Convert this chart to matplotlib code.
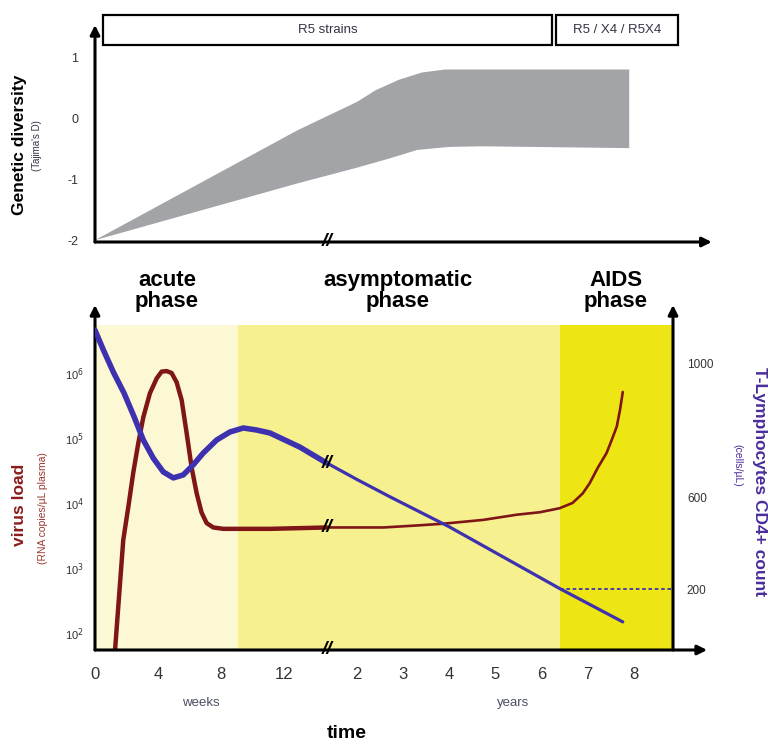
import numpy as np
import matplotlib
matplotlib.use('Agg')
import matplotlib.pyplot as plt
from matplotlib.patches import Rectangle

plt.rcParams['font.family'] = ['Liberation Sans', 'DejaVu Sans']

# ---- data ----
# time axis: weeks drawn 1:1, years squeezed after the break
year_scale = 2.92
year_offset = 10.76
break_u = 14.7

week_ticks = [0, 4, 8, 12]
year_ticks = [2, 3, 4, 5, 6, 7, 8]

# genetic diversity band (Tajima's D)
gd_up_weeks = [0, 12.8]
gd_up_wval = [-2.0, -0.2]
gd_up_years = [2.0, 2.4, 2.9, 3.15, 3.4, 3.9, 7.9]
gd_up_yval = [0.27, 0.46, 0.63, 0.69, 0.75, 0.80, 0.80]
gd_lo_weeks = [0, 12.8]
gd_lo_wval = [-2.0, -1.07]
gd_lo_years = [2.0, 2.7, 3.3, 4.0, 4.7, 7.9]
gd_lo_yval = [-0.81, -0.66, -0.52, -0.47, -0.46, -0.49]

# virus load (RNA copies/uL)
vl_weeks = [1.27, 1.79, 2.11, 2.42, 2.74, 3.06, 3.48, 3.91, 4.22, 4.54, 4.85, 5.17, 5.49,
            5.80, 6.12, 6.44, 6.75, 7.07, 7.49, 8.12, 11.1, 14.7]
vl_wval = [55, 2700, 8700, 29000, 83000, 209000, 490000, 830000, 1050000, 1070000, 1000000,
           720000, 380000, 120000, 35000, 14000, 7100, 4900, 4200, 4000, 4000, 4200]
vl_years = [1.35, 2, 2.57, 3.28, 3.87, 4.74, 5.46, 5.96, 6.39, 6.67, 6.89, 7.04, 7.22, 7.41,
            7.52, 7.63, 7.70, 7.76]
vl_yval = [4200, 4200, 4200, 4500, 4800, 5500, 6600, 7200, 8300, 10000, 14000, 20000, 35000,
           59000, 93000, 150000, 270000, 510000]

# CD4 count (cells/uL)
cd_weeks = [0, 0.53, 1.16, 1.84, 2.48, 3.06, 3.69, 4.32, 4.96, 5.59, 6.22, 6.85, 7.70, 8.54,
            9.39, 10.23, 11.08, 12.97, 14.68]
cd_wval = [1098, 1039, 973, 910, 839, 770, 716, 675, 657, 666, 696, 731, 770, 794, 806, 800,
           791, 749, 701]
cd_years = [1.35, 2, 2.72, 4, 6.41, 7.76]
cd_yval = [701, 652, 600, 470, 200, 57]

acute_end_week = 9.05
aids_start_year = 6.4
cd4_threshold = 200

cd_ticks = [1000, 600, 200]
vl_ticks = [1e2, 1e3, 1e4, 1e5, 1e6]


def yu(y):
    return year_offset + np.asarray(y, float) * year_scale


W, H = 768, 745
fig = plt.figure(figsize=(W / 100, H / 100), dpi=100)


def fx(px):
    return px / W


def fy(py):
    return 1 - py / H


xmax = 36.6
red = '#801518'
blue = '#3d31b0'

# ---------- top panel ----------
ax1 = fig.add_axes([fx(95), fy(242), fx(673) - fx(95), fy(25) - fy(242)])
ax1.set_xlim(0, xmax)
ax1.set_ylim(-2.03, 1.53)
bx = np.concatenate([gd_up_weeks, yu(gd_up_years), yu(gd_lo_years)[::-1], gd_lo_weeks[::-1]])
by = np.concatenate([gd_up_wval, gd_up_yval, gd_lo_yval[::-1], gd_lo_wval[::-1]])
ax1.fill(bx, by, color='#a2a4a8', lw=0)
for s in ax1.spines.values():
    s.set_visible(False)
ax1.set_xticks([])
ax1.set_yticks([1, 0, -1, -2])
ax1.set_yticklabels(['1', '0', '-1', '-2'], fontsize=9, color='#333333')
ax1.tick_params(axis='y', length=0, pad=12)
arw = dict(arrowstyle='-|>', lw=2.2, color='k', mutation_scale=14, shrinkA=0, shrinkB=0)
ax1.annotate('', xy=(0, 1), xytext=(0, 0), xycoords='axes fraction', arrowprops=arw)
ax1.annotate('', xy=(1.067, 0), xytext=(0, 0), xycoords='axes fraction', arrowprops=arw)
brk = dict(ha='center', va='center', fontsize=14, fontweight='bold', fontstyle='italic')
ax1.text(break_u, -2.03, '//', clip_on=False, **brk)

# strain boxes
for x0, x1, lab in [(103, 552, 'R5 strains'), (556, 678, 'R5 / X4 / R5X4')]:
    fig.add_artist(Rectangle((fx(x0), fy(45)), fx(x1) - fx(x0), fy(15) - fy(45),
                             transform=fig.transFigure, fill=False, lw=1.6, ec='k'))
    fig.text(fx((x0 + x1) / 2), fy(30), lab, ha='center', va='center', fontsize=9.5, color='#333344')

fig.text(fx(20), fy(145), 'Genetic diversity', rotation=90, ha='center', va='center',
         fontsize=12.5, fontweight='bold')
fig.text(fx(37), fy(146), "(Tajima's D)", rotation=90, ha='center', va='center',
         fontsize=7, color='#333344')

# ---------- bottom panel ----------
ax = fig.add_axes([fx(95), fy(650), fx(673) - fx(95), fy(305) - fy(650)])
ax.set_xlim(0, xmax)
ax.set_yscale('log')
ax.set_ylim(10 ** 1.738, 10 ** 7.046)
shade_top = (650 - 325) / (650 - 305)
ax.axvspan(0, acute_end_week, ymax=shade_top, color='#fcf8d3', lw=0)
ax.axvspan(acute_end_week, yu(aids_start_year), ymax=shade_top, color='#f7f08e', lw=0)
ax.axvspan(yu(aids_start_year), xmax, ymax=shade_top, color='#eee614', lw=0)
for s in ax.spines.values():
    s.set_visible(False)

ax.plot(vl_weeks, vl_wval, color=red, lw=3.2, solid_capstyle='round', solid_joinstyle='round')
ax.plot(yu(vl_years), vl_yval, color=red, lw=1.9, solid_capstyle='round', solid_joinstyle='round')

ax.set_yticks(vl_ticks)
ax.set_yticklabels([r'10$^{%d}$' % int(np.log10(v)) for v in vl_ticks], fontsize=8, color='#333333')
ax.yaxis.set_minor_locator(matplotlib.ticker.NullLocator())
ax.tick_params(axis='y', length=0, pad=8)
xt = list(week_ticks) + list(yu(year_ticks))
ax.set_xticks(xt)
ax.set_xticklabels([str(t) for t in week_ticks + year_ticks], fontsize=12, color='#333333')
ax.tick_params(axis='x', length=0, pad=12)

# CD4 axis with the uneven spacing of the original
cd_nodes = [-200, 0, 200, 600, 1000, 1400]
h_nodes = [-31, 15, 61, 153, 287, 421]


def fwd(v):
    return np.interp(v, cd_nodes, h_nodes)


def inv(h):
    return np.interp(h, h_nodes, cd_nodes)


ax2 = ax.twinx()
ax2.set_yscale('function', functions=(fwd, inv))
ax2.set_ylim(inv(0), inv(345))
for s in ax2.spines.values():
    s.set_visible(False)
ax2.plot(cd_weeks, cd_wval, color=blue, lw=4, solid_capstyle='round', solid_joinstyle='round')
ax2.plot(yu(cd_years), cd_yval, color=blue, lw=2.3, solid_capstyle='round', solid_joinstyle='round')
ax2.hlines(cd4_threshold, yu(aids_start_year), xmax, colors=blue, linestyles=(0, (2, 1.5)), lw=1.3)
ax2.set_yticks(cd_ticks)
ax2.set_yticklabels([str(t) for t in cd_ticks], fontsize=8.5, color='#333333')
ax2.tick_params(axis='y', length=0, pad=10)

ax.annotate('', xy=(0, 1), xytext=(0, 0), xycoords='axes fraction', arrowprops=arw)
ax.annotate('', xy=(1, 1), xytext=(1, 0), xycoords='axes fraction', arrowprops=arw)
ax.annotate('', xy=(1.059, 0), xytext=(0, 0), xycoords='axes fraction', arrowprops=arw)

# break marks
ax.text(break_u, 10 ** 1.738, '//', clip_on=False, **brk)
ax.text(break_u, 4200, '//', **brk)
ax2.text(break_u, 701, '//', **brk)

# phase titles
bold = dict(ha='center', va='center', fontsize=16, fontweight='bold', linespacing=0.95)
fig.text(fx(167), fy(291), 'acute\nphase', **bold)
fig.text(fx(398), fy(291), 'asymptomatic\nphase', **bold)
fig.text(fx(616), fy(291), 'AIDS\nphase', **bold)

fig.text(fx(20), fy(505), 'virus load', rotation=90, ha='center', va='center',
         fontsize=12.5, fontweight='bold', color='#8b1c1c')
fig.text(fx(43), fy(508), '(RNA copies/\u00b5L plasma)', rotation=90, ha='center', va='center',
         fontsize=7.5, color='#9a3a30')
fig.text(fx(759), fy(482), 'T-Lymphocytes CD4+ count', rotation=-90, ha='center', va='center',
         fontsize=12.5, fontweight='bold', color='#4a2d9c')
fig.text(fx(737), fy(465), '(cells/\u00b5L)', rotation=-90, ha='center', va='center',
         fontsize=7.5, color='#4a2d9c')

fig.text(fx(201), fy(703), 'weeks', ha='center', va='center', fontsize=9.5, color='#4a5060')
fig.text(fx(513), fy(703), 'years', ha='center', va='center', fontsize=9.5, color='#4a5060')
fig.text(fx(347), fy(733), 'time', ha='center', va='center', fontsize=14, fontweight='bold')

plt.savefig('out.png', dpi=100)
